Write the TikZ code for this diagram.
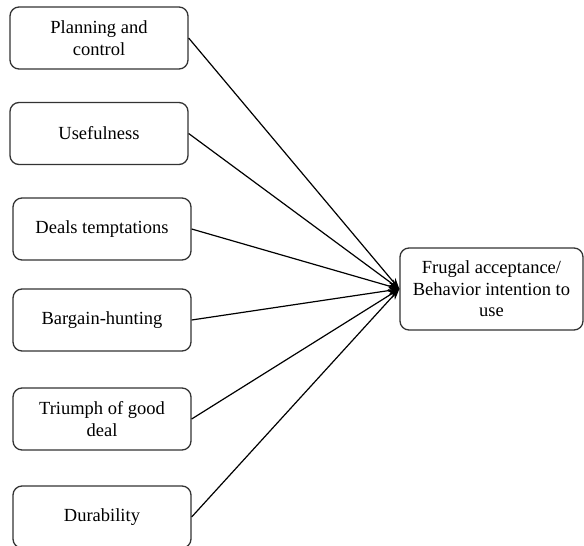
\documentclass[tikz,border=0pt]{standalone}
\usepackage{fontspec}
\setmainfont{Liberation Serif}
\usetikzlibrary{arrows.meta}

\begin{document}
\begin{tikzpicture}[
        x=1pt, y=-1pt,
        factor/.style={draw=black!80, line width=1.3pt, rounded corners=9pt,
            minimum width=178pt, minimum height=62pt, align=center,
            font=\fontsize{18.5}{21.5}\selectfont, inner sep=0pt},
        link/.style={line width=1.2pt, -{Stealth[length=11pt,width=8pt]}}
    ]
    \useasboundingbox (0,0) rectangle (584,546);

    % antecedents
    \node[factor] (plan)    at (99,38)   {Planning and\\control};
    \node[factor] (useful)  at (99,133.5) {Usefulness};
    \node[factor] (deals)   at (102,229) {Deals temptations};
    \node[factor] (bargain) at (102,320) {Bargain-hunting};
    \node[factor] (triumph) at (102,419) {Triumph of good\\deal};
    \node[factor] (durable) at (102,517) {Durability};

    \node[factor, minimum width=183pt, minimum height=82pt] (accept) at (491.5,289)
        {Frugal acceptance/\\Behavior intention to\\use};

    \foreach \f in {plan,useful,deals,bargain,triumph,durable}
        \draw[link] (\f.east) -- (accept.west);
\end{tikzpicture}
\end{document}
